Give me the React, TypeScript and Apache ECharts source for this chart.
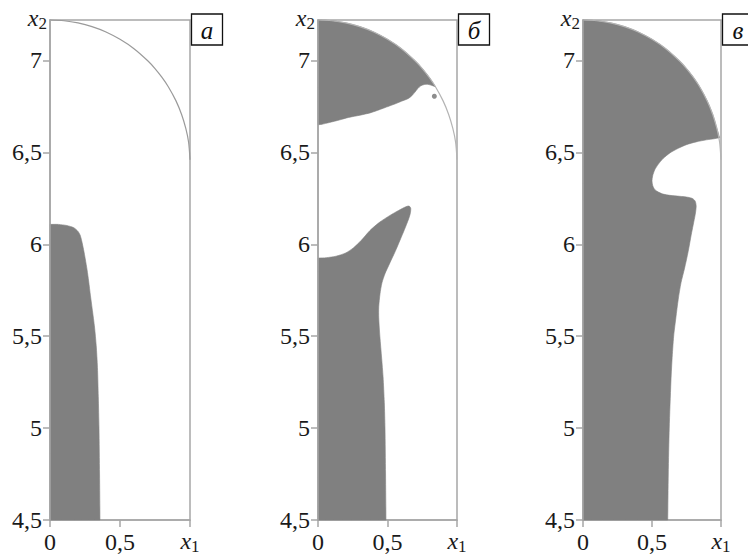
import React, { useEffect, useRef } from "react";
import * as echarts from "echarts";

// ---- data ----
const yTicks = [4.5, 5, 5.5, 6, 6.5, 7];
const xTicks = [0, 0.5, 1];
const panelLetters = ["а", "б", "в"];

// upper boundary curve (same in all panels)
const arcPoints: number[][] = [
  [0, 7.22], [0.1, 7.216], [0.2, 7.204], [0.3, 7.184], [0.4, 7.155],
  [0.5, 7.115], [0.6, 7.064], [0.7, 6.997], [0.75, 6.956], [0.8, 6.908],
  [0.845, 6.857], [0.9, 6.78], [0.94, 6.706], [0.97, 6.63], [0.99, 6.555],
  [1, 6.46],
];

// panel а: shaded region (corner points are repeated to keep them sharp)
const regionA: number[][] = [
  [0, 4.5], [0, 4.5], [0, 6.108], [0, 6.108], [0.06, 6.108], [0.12, 6.102],
  [0.17, 6.09], [0.2, 6.07], [0.215, 6.05], [0.226, 6.02], [0.24, 5.97],
  [0.252, 5.92], [0.265, 5.86], [0.276, 5.8], [0.289, 5.72], [0.303, 5.64],
  [0.318, 5.55], [0.33, 5.45], [0.339, 5.33], [0.345, 5.17], [0.35, 5.0],
  [0.354, 4.75], [0.357, 4.5], [0.357, 4.5],
];

// panel б: upper region lower edge (after following the curve up to its tip)
const regionBTopEdge: number[][] = [
  [0.845, 6.857], [0.82, 6.864], [0.79, 6.87], [0.765, 6.869], [0.74, 6.862],
  [0.718, 6.847], [0.698, 6.828], [0.675, 6.808], [0.65, 6.793], [0.6, 6.778],
  [0.566, 6.767], [0.47, 6.74], [0.38, 6.716], [0.302, 6.702], [0.22, 6.69],
  [0.158, 6.677], [0.08, 6.662], [0.03, 6.653], [0, 6.65], [0, 6.65],
];
// panel б: lower region
const regionBLow: number[][] = [
  [0, 4.5], [0, 4.5], [0, 5.925], [0, 5.925], [0.06, 5.927], [0.13, 5.935],
  [0.2, 5.953], [0.254, 5.98], [0.31, 6.02], [0.374, 6.075], [0.44, 6.118],
  [0.518, 6.157], [0.58, 6.184], [0.632, 6.204], [0.655, 6.208], [0.667, 6.196],
  [0.664, 6.168], [0.652, 6.138], [0.622, 6.08], [0.59, 6.022], [0.555, 5.96],
  [0.518, 5.9], [0.482, 5.84], [0.46, 5.79], [0.446, 5.73], [0.437, 5.66],
  [0.437, 5.6], [0.445, 5.5], [0.458, 5.38], [0.468, 5.28], [0.477, 5.14],
  [0.482, 5.0], [0.486, 4.75], [0.489, 4.5], [0.489, 4.5],
];
// panel б: small isolated dot
const dotB: number[][] = [[0.837, 6.805]];

// panel в: region edge (after following the curve down to x = 0.97)
const regionCEdge: number[][] = [
  [0.99, 6.58], [0.99, 6.58], [0.95, 6.574], [0.894, 6.568], [0.82, 6.557],
  [0.75, 6.542], [0.69, 6.522], [0.63, 6.497], [0.58, 6.466], [0.546, 6.436],
  [0.52, 6.405], [0.505, 6.373], [0.5, 6.345], [0.505, 6.32], [0.52, 6.298],
  [0.546, 6.284], [0.58, 6.273], [0.63, 6.266], [0.7, 6.261], [0.75, 6.257],
  [0.79, 6.25], [0.812, 6.236], [0.82, 6.21], [0.816, 6.175], [0.809, 6.145],
  [0.797, 6.1], [0.785, 6.055], [0.762, 5.96], [0.736, 5.87], [0.71, 5.79],
  [0.69, 5.7], [0.673, 5.6], [0.657, 5.5], [0.645, 5.37], [0.637, 5.25],
  [0.625, 5.0], [0.618, 4.75], [0.614, 4.5], [0.614, 4.5], [0, 4.5], [0, 4.5],
];

const regionBTop = [[0, 7.22], ...arcPoints.slice(0, 11), ...regionBTopEdge];
const regionC = [[0, 7.22], ...arcPoints.slice(0, 14), ...regionCEdge];

// ---- styling / layout ----
const SERIF = '"Liberation Serif", "Times New Roman", serif';
const FILL = "#808080";
const AX = "#a6a6a6";
const TXT = "#1a1a1a";
const TOP = 14;
const HEIGHT = 506;
const grids = [
  { left: 50, width: 140 },
  { left: 318, width: 139 },
  { left: 583, width: 138 },
];
const panelRegions = [[regionA], [regionBTop, regionBLow], [regionC]];

const rich = {
  n: { fontFamily: SERIF, fontSize: 24, color: TXT, lineHeight: 26 },
  i: { fontFamily: SERIF, fontStyle: "italic", fontSize: 24, color: TXT, lineHeight: 26, verticalAlign: "top" },
  s: { fontFamily: SERIF, fontSize: 17, color: TXT, lineHeight: 17, padding: [15, 0, 0, 0], verticalAlign: "bottom" },
};

const fmt = (v: number) => "{n|" + String(v).replace(".", ",") + "}";

export default function App() {
  const ref = useRef<HTMLDivElement>(null);
  useEffect(() => {
    if (!ref.current) return;
    const chart = echarts.init(ref.current, undefined, { renderer: "svg" });

    const series: any[] = [];
    panelRegions.forEach((regs, idx) => {
      regs.forEach((pts) => {
        series.push({
          type: "custom",
          xAxisIndex: idx,
          yAxisIndex: idx,
          data: [[0, 4.5]],
          silent: true,
          z: 2,
          renderItem: (_p: any, api: any) => ({
            type: "polygon",
            shape: { points: pts.map((p) => api.coord(p)), smooth: 0.25 },
            style: { fill: FILL, stroke: FILL, lineWidth: 0.6 },
          }),
        });
      });
      series.push({
        type: "line",
        xAxisIndex: idx,
        yAxisIndex: idx,
        data: arcPoints,
        smooth: 0.3,
        symbol: "none",
        clip: false,
        silent: true,
        z: 3,
        lineStyle: { color: idx === 0 ? "#9a9a9a" : "#b4b4b4", width: 1.2 },
      });
    });
    series.push({
      type: "scatter",
      xAxisIndex: 1,
      yAxisIndex: 1,
      data: dotB,
      symbolSize: 5,
      silent: true,
      z: 4,
      itemStyle: { color: "#707070" },
    });

    chart.setOption({
      animation: false,
      backgroundColor: "#ffffff",
      textStyle: { fontFamily: SERIF },
      grid: grids.map((g) => ({
        left: g.left,
        top: TOP,
        width: g.width,
        height: HEIGHT,
        show: true,
        borderColor: AX,
        borderWidth: 1.5,
        backgroundColor: "transparent",
      })),
      xAxis: grids.map((_g, i) => ({
        gridIndex: i,
        type: "value",
        min: 0,
        max: 1,
        splitLine: { show: false },
        axisLine: { show: true, lineStyle: { color: AX, width: 1.5 } },
        axisTick: { show: true, customValues: xTicks, length: 7, lineStyle: { color: AX, width: 1.5 } },
        axisLabel: {
          customValues: xTicks,
          margin: 9,
          color: TXT,
          fontFamily: SERIF,
          fontSize: 24,
          formatter: (v: number) => (v === 1 ? "{i|x}{s|1}" : fmt(v)),
          rich,
        },
      })),
      yAxis: grids.map((_g, i) => ({
        gridIndex: i,
        type: "value",
        min: 4.5,
        max: 7.22,
        z: 5,
        name: "{i|x}{s|2}",
        nameLocation: "end",
        nameGap: 1,
        nameTextStyle: { align: "right", verticalAlign: "middle", padding: [0, 3, 0, 0], rich },
        splitLine: { show: false },
        axisLine: { show: true, lineStyle: { color: AX, width: 1.5 } },
        axisTick: { show: true, customValues: yTicks, length: 7, lineStyle: { color: AX, width: 1.5 } },
        axisLabel: {
          customValues: yTicks,
          margin: 8,
          color: TXT,
          fontFamily: SERIF,
          fontSize: 24,
          formatter: (v: number) => fmt(v),
          rich,
        },
      })),
      graphic: grids.map((g, i) => ({
        type: "group",
        x: g.left + g.width + 1.5,
        y: TOP,
        silent: true,
        children: [
          {
            type: "rect",
            shape: { x: 0, y: 0, width: 31, height: 31 },
            style: { fill: "#ffffff", stroke: "#111111", lineWidth: 1.3 },
          },
          {
            type: "text",
            x: 15.5,
            y: 16,
            style: {
              text: panelLetters[i],
              font: `italic 25px ${SERIF}`,
              fill: "#111111",
              align: "center",
              verticalAlign: "middle",
            },
          },
        ],
      })),
      series,
    });
    return () => chart.dispose();
  }, []);
  return (
    <div
      ref={ref}
      style={{ position: "fixed", left: 0, top: 0, width: 748, height: 559, background: "#fff" }}
    />
  );
}
